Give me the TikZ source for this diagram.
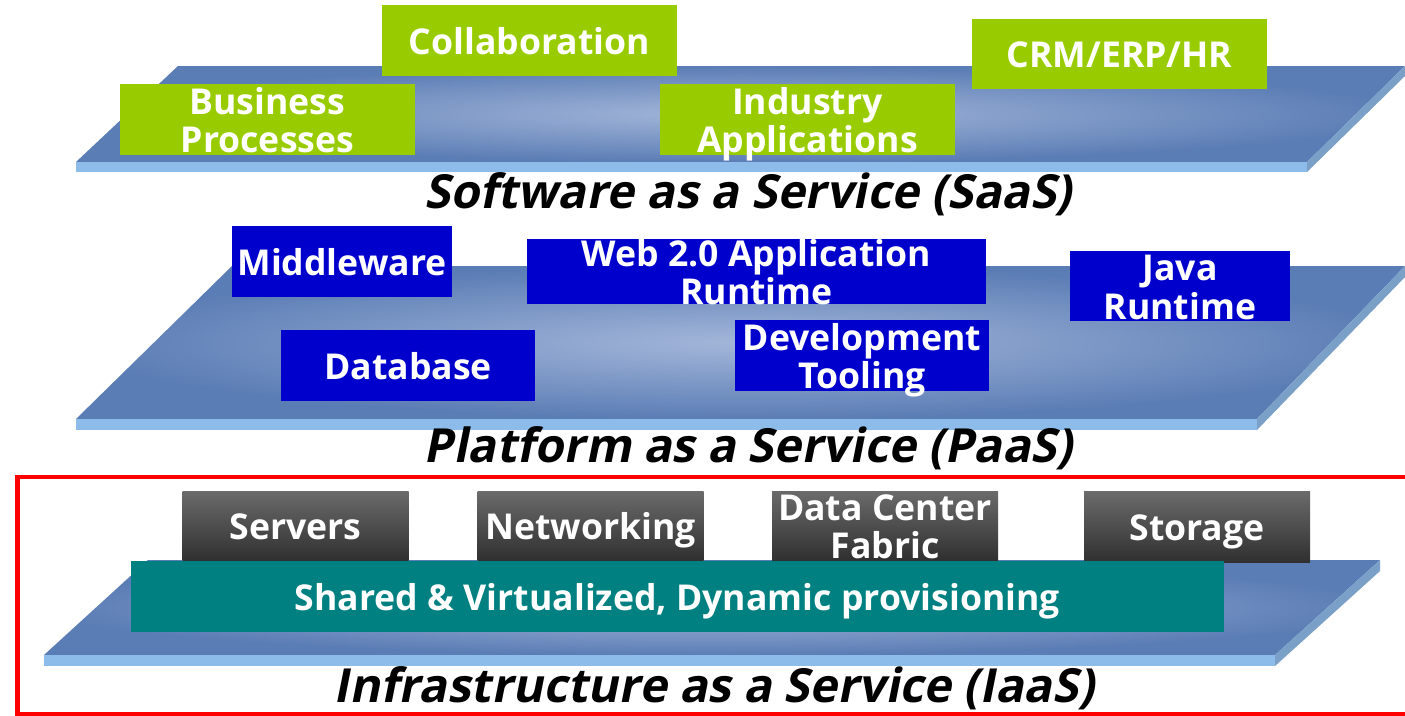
\documentclass[tikz,border=0pt]{standalone}
\usepackage{fontspec}
\setmainfont{Open Sans}
\newfontfamily\titlefont{Open Sans}[BoldFeatures={FakeSlant=0.2}]
\definecolor{slabdark}{HTML}{5B7DB5}
\definecolor{slablight}{HTML}{A3B6D9}
\definecolor{slabfront}{HTML}{8DBBEA}
\definecolor{slabside}{HTML}{7BA0C8}
\definecolor{saasgreen}{HTML}{99CC00}
\definecolor{paasblue}{HTML}{0000CC}
\definecolor{iaasteal}{HTML}{008080}
\definecolor{graytop}{HTML}{6B6B6B}
\definecolor{graybot}{HTML}{303030}
\definecolor{framered}{HTML}{FF0000}
\newcommand\btext[1]{\smash{\raisebox{-12.5pt}{\begin{tabular}{@{}c@{}}#1\end{tabular}}}}
\tikzset{
  x=1pt, y=-1pt,
  basebox/.style={inner sep=0pt, text=white, anchor=center,
    font=\fontsize{35.6}{38}\selectfont\bfseries},
  saasbox/.style={basebox, fill=saasgreen, minimum width=295pt, minimum height=71pt},
  paasbox/.style={basebox, fill=paasblue, minimum height=71pt},
  iaasbox/.style={basebox, top color=graytop, bottom color=graybot, minimum width=226pt, minimum height=69pt},
  sharedbox/.style={basebox, fill=iaasteal, minimum width=1093pt, minimum height=71pt},
  titlelabel/.style={inner sep=0pt, text=black, font=\fontsize{47}{50}\selectfont\titlefont\bfseries},
  slabtop/.style={inner color=slablight, outer color=slabdark},
  slabfrontface/.style={fill=slabfront},
  slabsideface/.style={fill=slabside},
}
\begin{document}
\begin{tikzpicture}
\useasboundingbox (0,0) rectangle (1405,715);
\clip (0,0) rectangle (1405,715);
\fill[white] (0,0) rectangle (1405,715);

% red frame around IaaS
\draw[framered, line width=4.5pt] (17.5,477) rectangle (1430,714);

% --- IaaS slab ---
\shade[slabtop] (44,655) -- (1275,655) -- (1380,560) -- (148,560) -- cycle;
\fill[slabfrontface] (44,655) rectangle (1275,666);
\fill[slabsideface] (1275,655) -- (1380,560) -- (1380,571) -- (1275,666) -- cycle;

% --- PaaS slab ---
\shade[slabtop] (76,419) -- (1257,419) -- (1405,266) -- (232,266) -- cycle;
\fill[slabfrontface] (76,419) rectangle (1257,430);
\fill[slabsideface] (1257,419) -- (1405,266) -- (1405,277) -- (1257,430) -- cycle;

% --- SaaS slab ---
\shade[slabtop] (76,162) -- (1307,162) -- (1405,66) -- (178,66) -- cycle;
\fill[slabfrontface] (76,162) rectangle (1307,172);
\fill[slabsideface] (1307,162) -- (1405,66) -- (1405,76) -- (1307,172) -- cycle;

% SaaS boxes
\node[saasbox] (bp) at (267.5,119.5) {\btext{Business\\Processes}};
\node[saasbox] (collab) at (529.5,40.5) {\btext{Collaboration}};
\node[saasbox] (industry) at (807.5,119.5) {\btext{Industry\\Applications}};
\node[saasbox, minimum height=70pt] (crm) at (1119.5,54) {\btext{CRM/ERP/HR}};
\node[titlelabel] (saas) at (748,194) {Software as a Service (SaaS)};

% PaaS boxes
\node[paasbox, minimum width=220pt] (middleware) at (342,261.5) {\btext{Middleware}};
\node[paasbox, minimum width=459pt, minimum height=65pt] (web) at (756.5,271.5) {\btext{Web 2.0 Application\\Runtime}};
\node[paasbox, minimum width=220pt, minimum height=70pt] (java) at (1180,286) {\btext{Java\\Runtime}};
\node[paasbox, minimum width=254pt] (database) at (408,365.5) {\btext{Database}};
\node[paasbox, minimum width=254pt] (devtool) at (862,355.5) {\btext{Development\\Tooling}};
\node[titlelabel] (paas) at (748,448) {Platform as a Service (PaaS)};

% IaaS boxes
\node[iaasbox] (servers) at (295.5,525.5) {\btext{Servers}};
\node[iaasbox] (networking) at (590.5,525.5) {\btext{Networking}};
\node[iaasbox] (dcfabric) at (885,525.5) {\btext{Data Center\\Fabric}};
\node[iaasbox, minimum height=71pt] (storage) at (1197,526.5) {\btext{Storage}};
\node[sharedbox] (shared) at (677.5,596.5) {\btext{Shared \& Virtualized, Dynamic provisioning}};
\node[titlelabel] (iaas) at (714,688) {Infrastructure as a Service (IaaS)};
\end{tikzpicture}
\end{document}
